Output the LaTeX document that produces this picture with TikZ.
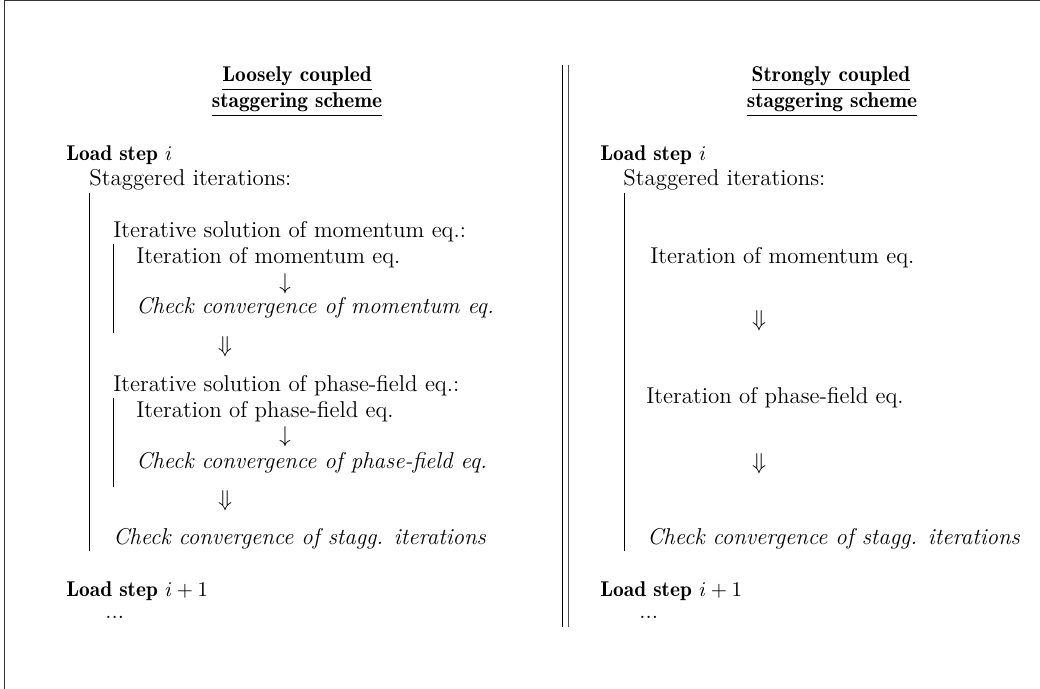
\documentclass[tikz,border=0pt]{standalone}
\begin{document}
\begin{tikzpicture}[x=0.5241pt, y=-0.5241pt,
  txt/.style={inner sep=0pt, anchor=base west, font=\fontsize{12}{14.4}\selectfont},
  itxt/.style={inner sep=0pt, anchor=base west, font=\fontsize{12}{14.4}\selectfont\itshape},
  bld/.style={inner sep=0pt, anchor=base west, font=\fontsize{11.2}{13.4}\fontseries{b}\selectfont},
  ttl/.style={inner sep=0pt, anchor=base, font=\fontsize{11.2}{13.4}\fontseries{b}\selectfont},
  arr/.style={inner sep=0pt, anchor=base, font=\fontsize{12}{14.4}\selectfont},
  bar/.style={line width=0.5pt, black},
  frame/.style={line width=0.6pt, black!80}]
\useasboundingbox (0,0) rectangle (1040,689);
% frame (top and left edges)
\coordinate (f1) at (4.5,689);
\coordinate (f2) at (4.5,0.5);
\coordinate (f3) at (1040,0.5);
\draw[frame] (f1) -- (f2) -- (f3);
% separating double line
\coordinate (d1t) at (562,65); \coordinate (d1b) at (562,627);
\coordinate (d2t) at (568,65); \coordinate (d2b) at (568,627);
\draw[bar] (d1t) -- (d1b);
\draw[bar, black!70] (d2t) -- (d2b);

% ---------------- left panel ----------------
\node[ttl] (lt1) at (297,82) {\underline{Loosely coupled}};
\node[ttl] (lt2) at (297,108) {\underline{staggering scheme}};
\node[bld] (lls) at (66,160) {Load step $i$};
\node[txt] (lsi) at (89,186) {Staggered iterations:};
\coordinate (lb1t) at (89,193); \coordinate (lb1b) at (89,551);
\draw[bar] (lb1t) -- (lb1b);
\node[txt] (lism) at (113,237) {Iterative solution of momentum eq.:};
\coordinate (lb2t) at (113,244); \coordinate (lb2b) at (113,333);
\draw[bar] (lb2t) -- (lb2b);
\node[txt] (lim) at (136,263) {Iteration of momentum eq.};
\node[arr] (la1) at (285,289) {$\downarrow$};
\node[itxt] (lcm) at (136,313) {Check convergence of momentum eq.};
\node[arr] (la2) at (225,352) {$\Downarrow$};
\node[txt] (lisp) at (113,391) {Iterative solution of phase-field eq.:};
\coordinate (lb3t) at (113,398); \coordinate (lb3b) at (113,487);
\draw[bar] (lb3t) -- (lb3b);
\node[txt] (lip) at (136,417) {Iteration of phase-field eq.};
\node[arr] (la3) at (285,442) {$\downarrow$};
\node[itxt] (lcp) at (136,468) {Check convergence of phase-field eq.};
\node[arr] (la4) at (225,506) {$\Downarrow$};
\node[itxt] (lcs) at (113,544) {Check convergence of stagg. iterations};
\node[bld] (lln) at (66,596) {Load step $i+1$};
\node[txt] (ldots) at (105,618) {...};

% ---------------- right panel ----------------
\node[ttl] (rt1) at (831,82) {\underline{Strongly coupled}};
\node[ttl] (rt2) at (832,108) {\underline{staggering scheme}};
\node[bld] (rls) at (600,160) {Load step $i$};
\node[txt] (rsi) at (623,186) {Staggered iterations:};
\coordinate (rb1t) at (624,193); \coordinate (rb1b) at (624,551);
\draw[bar] (rb1t) -- (rb1b);
\node[txt] (rim) at (650,263) {Iteration of momentum eq.};
\node[arr] (ra1) at (759,326) {$\Downarrow$};
\node[txt] (rip) at (646,403) {Iteration of phase-field eq.};
\node[arr] (ra2) at (759,469) {$\Downarrow$};
\node[itxt] (rcs) at (647,544) {Check convergence of stagg. iterations};
\node[bld] (rln) at (600,596) {Load step $i+1$};
\node[txt] (rdots) at (639,618) {...};
\end{tikzpicture}
\end{document}
